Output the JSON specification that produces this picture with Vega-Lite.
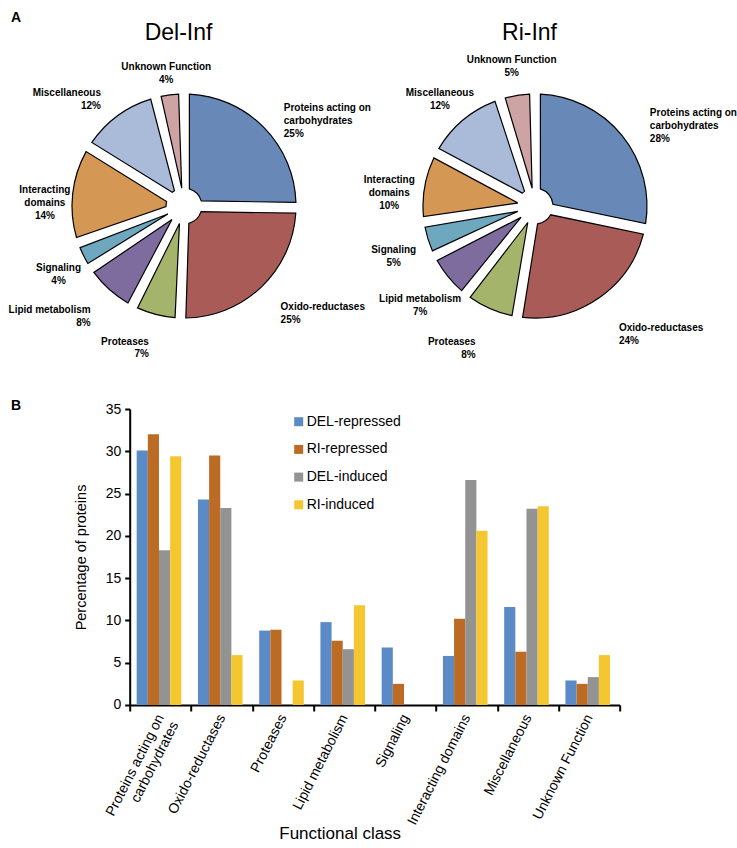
{
  "$schema": "https://vega.github.io/schema/vega-lite/v6.json",
  "padding": {"left": 7.7, "top": 11, "right": 0, "bottom": 0},
  "background": "white",
  "config": {"view": {"stroke": null}, "font": "Liberation Sans"},
  "bounds": "flush",
  "spacing": 38,
  "resolve": {"scale": {"color": "independent"}},
  "datasets": {
    "pieA": [
      {"panel": "Del-Inf", "cat": "Proteins acting on carbohydrates", "pct": 25, "order": 1, "label": "Proteins acting on\ncarbohydrates\n25%"},
      {"panel": "Del-Inf", "cat": "Oxido-reductases", "pct": 25, "order": 2, "label": "Oxido-reductases\n25%"},
      {"panel": "Del-Inf", "cat": "Proteases", "pct": 7, "order": 3, "label": "Proteases\n7%"},
      {"panel": "Del-Inf", "cat": "Lipid metabolism", "pct": 8, "order": 4, "label": "Lipid metabolism\n8%"},
      {"panel": "Del-Inf", "cat": "Signaling", "pct": 4, "order": 5, "label": "Signaling\n4%"},
      {"panel": "Del-Inf", "cat": "Interacting domains", "pct": 14, "order": 6, "label": "Interacting\ndomains\n14%"},
      {"panel": "Del-Inf", "cat": "Miscellaneous", "pct": 12, "order": 7, "label": "Miscellaneous\n12%"},
      {"panel": "Del-Inf", "cat": "Unknown Function", "pct": 4, "order": 8, "label": "Unknown Function\n4%"}
    ],
    "pieB": [
      {"panel": "Ri-Inf", "cat": "Proteins acting on carbohydrates", "pct": 28, "order": 1, "label": "Proteins acting on\ncarbohydrates\n28%"},
      {"panel": "Ri-Inf", "cat": "Oxido-reductases", "pct": 24, "order": 2, "label": "Oxido-reductases\n24%"},
      {"panel": "Ri-Inf", "cat": "Proteases", "pct": 8, "order": 3, "label": "Proteases\n8%"},
      {"panel": "Ri-Inf", "cat": "Lipid metabolism", "pct": 7, "order": 4, "label": "Lipid metabolism\n7%"},
      {"panel": "Ri-Inf", "cat": "Signaling", "pct": 5, "order": 5, "label": "Signaling\n5%"},
      {"panel": "Ri-Inf", "cat": "Interacting domains", "pct": 10, "order": 6, "label": "Interacting\ndomains\n10%"},
      {"panel": "Ri-Inf", "cat": "Miscellaneous", "pct": 12, "order": 7, "label": "Miscellaneous\n12%"},
      {"panel": "Ri-Inf", "cat": "Unknown Function", "pct": 5, "order": 8, "label": "Unknown Function\n5%"}
    ]
  },
  "vconcat": [
    {
      "width": 459.6, "height": 330,
      "title": {"text": "A", "anchor": "start", "frame": "group", "fontSize": 14, "fontWeight": "bold", "offset": -15, "dx": -118.7, "baseline": "alphabetic", "color": "black"},
      "encoding": {
        "x": {"field": "panel", "type": "nominal", "title": null,
              "scale": {"type": "point", "domain": ["Del-Inf", "Ri-Inf"], "padding": 0.1547},
              "axis": {"orient": "top", "domain": false, "ticks": false, "tickSize": 0, "labelAngle": 0, "labelAlign": "center", "labelFlush": false, "labelBound": false, "labelOverlap": false,
                       "labelFontSize": 23, "labelColor": "black", "labelPadding": 2, "labelBaseline": "alphabetic", "labelOffset": -6}}
      },
      "layer": [
        {"data": {"name": "pieA"},
         "mark": {"type": "arc", "outerRadius": 112, "innerRadius": 18, "padAngle": 0.095, "stroke": "black", "strokeWidth": 1.2},
         "encoding": {
           "theta": {"field": "pct", "type": "quantitative", "stack": true},
           "order": {"field": "order", "type": "quantitative"},
           "color": {"field": "cat", "type": "nominal", "legend": null,
             "scale": {"domain": ["Proteins acting on carbohydrates","Oxido-reductases","Proteases","Lipid metabolism","Signaling","Interacting domains","Miscellaneous","Unknown Function"],
                       "range": ["#6888b8","#a95c57","#a4b56b","#7e6c9f","#6ea8be","#d49754","#aabad9","#cea3a3"]}}}},
        {"data": {"name": "pieA"},
         "mark": {"type": "text", "radius": 140, "fontWeight": "bold", "fontSize": 10, "lineBreak": "\n", "lineHeight": 13, "baseline": "middle", "color": "black",
                  "align": {"expr": "indexof(['Proteins acting on carbohydrates','Oxido-reductases'], datum.cat) >= 0 ? 'left' : (indexof(['Proteases','Lipid metabolism','Miscellaneous'], datum.cat) >= 0 ? 'right' : 'center')"}},
         "encoding": {
           "theta": {"field": "pct", "type": "quantitative", "stack": true},
           "order": {"field": "order", "type": "quantitative"},
           "text": {"field": "label", "type": "nominal"}}},
        {"data": {"name": "pieB"},
         "mark": {"type": "arc", "outerRadius": 112, "innerRadius": 18, "padAngle": 0.095, "stroke": "black", "strokeWidth": 1.2},
         "encoding": {
           "theta": {"field": "pct", "type": "quantitative", "stack": true},
           "order": {"field": "order", "type": "quantitative"},
           "color": {"field": "cat", "type": "nominal", "legend": null}}},
        {"data": {"name": "pieB"},
         "mark": {"type": "text", "radius": 148, "fontWeight": "bold", "fontSize": 10, "lineBreak": "\n", "lineHeight": 13, "baseline": "middle", "color": "black",
                  "align": {"expr": "indexof(['Proteins acting on carbohydrates','Oxido-reductases'], datum.cat) >= 0 ? 'left' : (indexof(['Proteases'], datum.cat) >= 0 ? 'right' : 'center')"}},
         "encoding": {
           "theta": {"field": "pct", "type": "quantitative", "stack": true},
           "order": {"field": "order", "type": "quantitative"},
           "text": {"field": "label", "type": "nominal"}}}
      ]
    },
    {
      "width": 490, "height": 296,
      "title": {"text": "B", "anchor": "start", "frame": "group", "fontSize": 14, "fontWeight": "bold", "offset": -13, "dx": -118.7, "dy": 9, "baseline": "alphabetic", "color": "black"},
      "data": {"values": [
        {"cls": "Proteins acting on carbohydrates", "series": "DEL-repressed", "value": 30.1},
        {"cls": "Proteins acting on carbohydrates", "series": "RI-repressed", "value": 32.0},
        {"cls": "Proteins acting on carbohydrates", "series": "DEL-induced", "value": 18.3},
        {"cls": "Proteins acting on carbohydrates", "series": "RI-induced", "value": 29.4},
        {"cls": "Oxido-reductases", "series": "DEL-repressed", "value": 24.3},
        {"cls": "Oxido-reductases", "series": "RI-repressed", "value": 29.5},
        {"cls": "Oxido-reductases", "series": "DEL-induced", "value": 23.3},
        {"cls": "Oxido-reductases", "series": "RI-induced", "value": 5.9},
        {"cls": "Proteases", "series": "DEL-repressed", "value": 8.8},
        {"cls": "Proteases", "series": "RI-repressed", "value": 8.9},
        {"cls": "Proteases", "series": "RI-induced", "value": 2.9},
        {"cls": "Lipid metabolism", "series": "DEL-repressed", "value": 9.8},
        {"cls": "Lipid metabolism", "series": "RI-repressed", "value": 7.6},
        {"cls": "Lipid metabolism", "series": "DEL-induced", "value": 6.6},
        {"cls": "Lipid metabolism", "series": "RI-induced", "value": 11.8},
        {"cls": "Signaling", "series": "DEL-repressed", "value": 6.8},
        {"cls": "Signaling", "series": "RI-repressed", "value": 2.5},
        {"cls": "Interacting domains", "series": "DEL-repressed", "value": 5.8},
        {"cls": "Interacting domains", "series": "RI-repressed", "value": 10.2},
        {"cls": "Interacting domains", "series": "DEL-induced", "value": 26.6},
        {"cls": "Interacting domains", "series": "RI-induced", "value": 20.6},
        {"cls": "Miscellaneous", "series": "DEL-repressed", "value": 11.6},
        {"cls": "Miscellaneous", "series": "RI-repressed", "value": 6.3},
        {"cls": "Miscellaneous", "series": "DEL-induced", "value": 23.2},
        {"cls": "Miscellaneous", "series": "RI-induced", "value": 23.5},
        {"cls": "Unknown Function", "series": "DEL-repressed", "value": 2.9},
        {"cls": "Unknown Function", "series": "RI-repressed", "value": 2.5},
        {"cls": "Unknown Function", "series": "DEL-induced", "value": 3.3},
        {"cls": "Unknown Function", "series": "RI-induced", "value": 5.9}
      ]},
      "mark": {"type": "bar"},
      "encoding": {
        "x": {"field": "cls", "type": "nominal", "title": "Functional class",
              "sort": ["Proteins acting on carbohydrates","Oxido-reductases","Proteases","Lipid metabolism","Signaling","Interacting domains","Miscellaneous","Unknown Function"],
              "scale": {"paddingInner": 0, "paddingOuter": 0},
              "axis": {"tickBand": "extent", "domainColor": "black", "domainWidth": 2, "tickColor": "black", "tickWidth": 2, "tickSize": 6,
                       "labelAngle": -63, "labelAlign": "right", "labelBaseline": "middle", "labelFontSize": 14, "labelColor": "black", "labelPadding": 4, "labelLineHeight": 16,
                       "labelExpr": "datum.value == 'Proteins acting on carbohydrates' ? ['Proteins acting on', 'carbohydrates'] : datum.value",
                       "titleFontSize": 17, "titleFontWeight": "normal", "titleColor": "black", "titleX": 210, "titleY": 134, "titleBaseline": "alphabetic", "titleAlign": "center"}},
        "xOffset": {"field": "series", "type": "nominal", "sort": ["DEL-repressed","RI-repressed","DEL-induced","RI-induced"],
                    "scale": {"paddingInner": 0, "paddingOuter": 0.745, "align": 0.42}},
        "y": {"field": "value", "type": "quantitative", "title": "Percentage of proteins",
              "scale": {"domain": [0, 35]},
              "axis": {"values": [0,5,10,15,20,25,30,35], "grid": false, "domainColor": "black", "domainWidth": 2, "tickColor": "black", "tickWidth": 2, "tickSize": 5,
                       "labelFontSize": 14, "labelColor": "black", "labelPadding": 4,
                       "titleFontSize": 14.5, "titleFontWeight": "normal", "titleColor": "black", "titlePadding": 17}},
        "color": {"field": "series", "type": "nominal",
                  "scale": {"domain": ["DEL-repressed","RI-repressed","DEL-induced","RI-induced"], "range": ["#5b8bc6","#bc6b24","#939393","#f4c730"]},
                  "legend": {"orient": "none", "legendX": 162, "legendY": 5.7, "title": null, "symbolType": "square", "symbolSize": 81, "symbolStrokeWidth": 0,
                             "labelFontSize": 14, "labelColor": "black", "rowPadding": 13.7, "padding": 0, "labelOffset": 1}}
      }
    }
  ]
}
